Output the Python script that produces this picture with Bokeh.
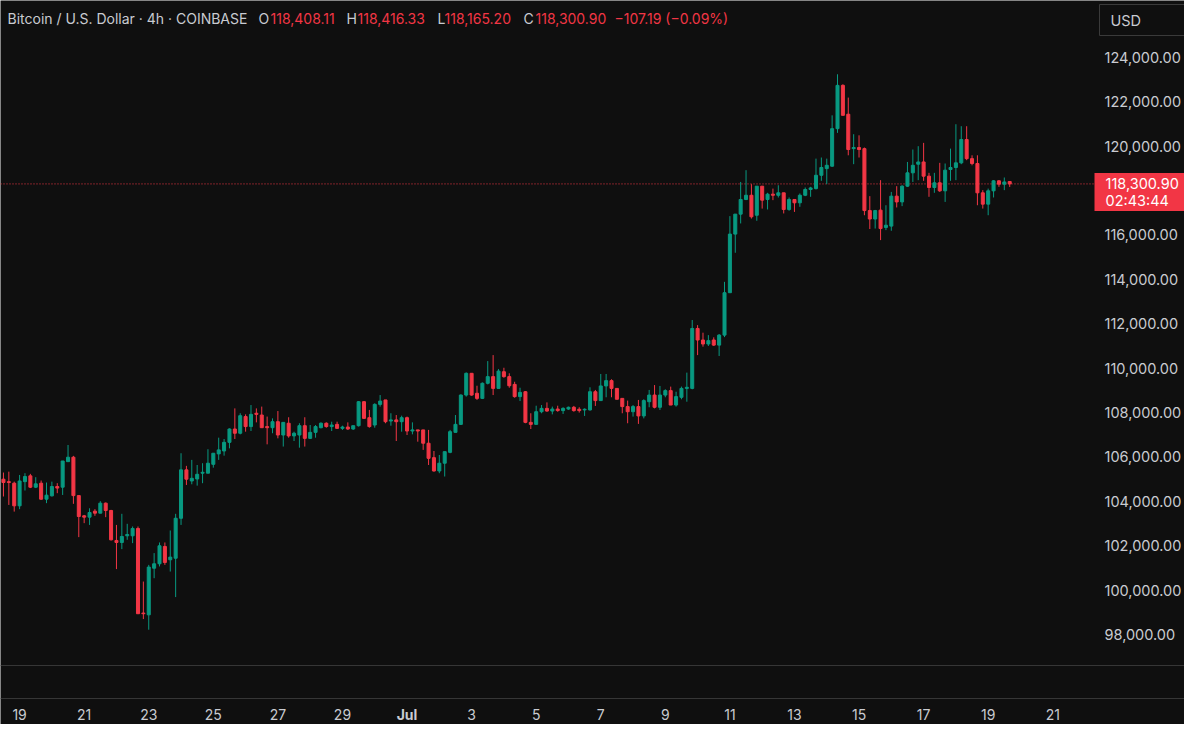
import pandas as pd
from bokeh.plotting import figure
from bokeh.models import ColumnDataSource, Span, Label, Range1d
from bokeh.core.properties import value
from bokeh.embed import file_html
from bokeh.resources import INLINE

# ---------------- data ----------------
symbol_title = "Bitcoin / U.S. Dollar \u00b7 4h \u00b7 COINBASE"
start_time = "2025-06-18 12:00"   # first 4h candle

opens = [
    105000, 104890, 104820, 103800, 104890, 105150, 104640, 104820, 104100, 104250,
    104670, 104640, 105790, 105990, 104260, 103350, 103290, 103560, 103470, 103920,
    103590, 102240, 102150, 102450, 102450, 102780, 98970, 98890, 100990, 101190,
    101970, 101370, 101440, 103240, 105420, 104920, 105010, 105270, 105270, 105670,
    106140, 106270, 106660, 107260, 107070, 107820, 107370, 107970, 107890, 107370,
    107320, 107590, 106990, 107520, 106950, 106990, 107410, 106840, 107110, 107320,
    107520, 107370, 107470, 107290, 107350, 107260, 107410, 108490, 107770, 107440,
    108370, 108570, 107620, 107670, 107590, 107770, 107170, 107220, 107220, 106620,
    105970, 105370, 105720, 106210, 107110, 107470, 108790, 109770, 108870, 108640,
    109320, 109620, 109090, 109840, 109620, 109270, 108720, 108940, 107560, 107470,
    108040, 108190, 108070, 108160, 108090, 108160, 108240, 108150, 108120, 108120,
    108940, 108540, 109200, 109440, 109090, 108640, 108270, 108040, 108270, 107850,
    108490, 108790, 108240, 108790, 108990, 108340, 108690, 109090, 109090, 111790,
    111270, 111090, 111270, 111040, 111490, 113400, 116040, 116940, 117600, 117790,
    116890, 118200, 117600, 117840, 117790, 117900, 117150, 117600, 117450, 117790,
    118050, 118090, 118690, 118990, 119100, 120790, 122740, 121440, 119890, 119940,
    119890, 117100, 116720, 117120, 116340, 116400, 117750, 117490, 118200, 118800,
    119190, 119290, 118650, 118140, 118350, 117990, 118950, 119040, 119250, 120300,
    119440, 119220, 117900, 117390, 117990, 118440, 118290, 118408.11,
]
highs = [
    105300, 105340, 104890, 105190, 105270, 105240, 105090, 104940, 104850, 104890,
    104820, 105820, 106540, 106050, 104260, 103390, 103690, 103650, 104010, 103950,
    103620, 102940, 103440, 102990, 102870, 102870, 100390, 101140, 101670, 102150,
    102150, 102690, 103440, 106170, 105600, 105870, 105640, 105720, 106350, 106170,
    106870, 106810, 107290, 108190, 107970, 107920, 108340, 108190, 108270, 107820,
    107740, 108070, 107560, 107790, 107140, 107520, 107790, 107440, 107440, 107560,
    107560, 107590, 107590, 107410, 107560, 107410, 108520, 108520, 108120, 108420,
    108790, 108570, 107970, 107890, 107860, 107820, 107560, 107220, 107220, 107220,
    106270, 106090, 106240, 107220, 107890, 108820, 109810, 109770, 109210, 109360,
    110320, 110590, 109960, 110020, 109770, 109390, 109120, 108970, 107970, 108310,
    108340, 108460, 108270, 108310, 108240, 108270, 108300, 108240, 108190, 109140,
    109020, 109740, 109740, 109500, 109090, 108640, 108540, 108340, 108570, 108600,
    109020, 109240, 109200, 109050, 109170, 108940, 109170, 109800, 112170, 111940,
    111600, 111490, 111390, 111540, 113890, 116850, 116940, 118390, 118920, 118290,
    118200, 118200, 117900, 118090, 118240, 117900, 117690, 117600, 117870, 118140,
    118170, 119440, 119490, 119440, 121390, 123240, 122790, 122190, 120540, 120490,
    119940, 117750, 117130, 118470, 117340, 117940, 118200, 118240, 119290, 119850,
    120000, 120150, 118800, 118800, 119250, 119220, 119890, 120990, 120900, 120900,
    119590, 119590, 118020, 118090, 118470, 118470, 118590, 118416.33,
]
lows = [
    104220, 103840, 103540, 103650, 104490, 104600, 104600, 104070, 103920, 104220,
    104370, 104290, 105790, 103890, 102390, 103020, 102940, 103350, 103470, 103290,
    102240, 100950, 101850, 102270, 102120, 98940, 98700, 98220, 100540, 101070,
    101140, 100840, 99690, 102940, 104740, 104770, 104710, 104820, 105270, 105520,
    105870, 106060, 106390, 106810, 107020, 107140, 107170, 107560, 107320, 106570,
    107070, 106840, 106470, 106870, 106720, 106420, 106470, 106810, 106870, 107290,
    107320, 107170, 107260, 107220, 107220, 107220, 107370, 107710, 107320, 107320,
    108270, 107520, 107410, 106720, 107140, 106990, 107020, 106690, 106320, 105640,
    105340, 105270, 105120, 106170, 107110, 107440, 108720, 108760, 108570, 108610,
    109270, 108790, 109090, 109570, 109120, 108670, 108520, 107520, 107260, 107470,
    107970, 108040, 107920, 108040, 107940, 108120, 108040, 108000, 107850, 108090,
    108300, 108540, 108690, 108690, 108600, 107970, 107520, 107820, 107490, 107740,
    108240, 108190, 108120, 108690, 108340, 108270, 108600, 108490, 109050, 110590,
    110970, 111000, 111000, 110550, 111400, 113400, 115200, 116520, 117570, 116740,
    116640, 117190, 117150, 117570, 117690, 116970, 117090, 117040, 117270, 117750,
    117720, 118050, 118440, 118290, 119070, 120600, 121390, 119590, 119190, 119490,
    116890, 116270, 116290, 115770, 116220, 116190, 117240, 117300, 118170, 118390,
    118470, 118440, 117720, 117900, 117940, 117490, 118440, 118470, 119190, 119370,
    119140, 117340, 117190, 116890, 117690, 118170, 118020, 118165.20,
]
closes = [
    104850, 104850, 103800, 104920, 105120, 104640, 104790, 104100, 104280, 104670,
    104600, 105820, 105990, 104260, 103320, 103290, 103500, 103470, 103920, 103590,
    102270, 102150, 102420, 102510, 102780, 98940, 98940, 101040, 101190, 102000,
    101250, 101490, 103240, 105420, 105000, 105040, 105220, 105310, 105720, 106170,
    106320, 106660, 107260, 107070, 107860, 107370, 107920, 107920, 107320, 107320,
    107590, 106990, 107560, 106950, 107070, 107410, 106840, 107110, 107370, 107520,
    107370, 107440, 107290, 107350, 107260, 107410, 108490, 107740, 107370, 108370,
    108520, 107590, 107670, 107590, 107770, 107170, 107220, 107170, 106620, 105940,
    105370, 105720, 106240, 107140, 107470, 108790, 109770, 108790, 108640, 109320,
    109620, 109090, 109870, 109620, 109210, 108720, 108910, 107560, 107470, 108040,
    108190, 108070, 108160, 108090, 108190, 108240, 108090, 108090, 108150, 108940,
    108540, 109200, 109440, 109090, 108600, 108270, 108040, 108270, 107850, 108540,
    108790, 108240, 108790, 108990, 108340, 108720, 109090, 109140, 111790, 111270,
    111090, 111240, 111040, 111490, 113400, 116040, 116940, 117600, 117790, 116820,
    118200, 117570, 117840, 117790, 117900, 117150, 117600, 117450, 117790, 118050,
    118120, 118690, 119040, 119140, 120790, 122740, 121390, 119850, 119940, 119850,
    117100, 116720, 117100, 116290, 116440, 117750, 117490, 118200, 118800, 119140,
    119290, 118650, 118140, 118350, 117990, 118920, 119040, 119250, 120300, 119440,
    119220, 117900, 117390, 117990, 118440, 118290, 118390, 118300.90,
]

last_open, last_high, last_low, last_close = 118408.11, 118416.33, 118165.20, 118300.90
change_text = "\u2212107.19 (\u22120.09%)"
countdown = "02:43:44"
currency = "USD"

price_ticks = [98000, 100000, 102000, 104000, 106000, 108000, 110000, 112000,
               114000, 116000, 118000, 120000, 122000, 124000]
date_ticks = ["2025-06-19", "2025-06-21", "2025-06-23", "2025-06-25", "2025-06-27",
              "2025-06-29", "2025-07-01", "2025-07-03", "2025-07-05", "2025-07-07",
              "2025-07-09", "2025-07-11", "2025-07-13", "2025-07-15", "2025-07-17",
              "2025-07-19", "2025-07-21"]
date_labels = ["19", "21", "23", "25", "27", "29", "Jul", "3", "5", "7", "9", "11",
               "13", "15", "17", "19", "21"]

# ---------------- style / layout ----------------
BG = "#0f0f0f"
UP = "#089981"
DOWN = "#f23645"
TXT = "#c9cbd1"
LINE = "#363636"
FONT = "Inter"
HOUR = 3600 * 1000

W, H = 1184, 724
Y_TOP, Y_BOT = 126563, 93950              # price range spanning the canvas height
PX = (Y_TOP - Y_BOT) / H                  # dollars per pixel
PX_PER_HOUR = 1.34525                     # horizontal time scale (4h candle ~ 5.38 px)
ref_ms = pd.Timestamp(date_ticks[0]).value // 10**6
X0 = ref_ms - 14.2 * HOUR
X1 = X0 + W / PX_PER_HOUR * HOUR

def y_at(px):   # pixel offset from top -> price
    return Y_TOP - px * PX

def x_at(px):   # pixel offset from left -> time (ms)
    return X0 + px / PX_PER_HOUR * HOUR

SCALE_X = 1094  # left edge of the price scale column

times = pd.date_range(start_time, periods=len(opens), freq="4h")
t_ms = [float(v) for v in (times.asi8 // 10**6)]
colors = [UP if c >= o else DOWN for o, c in zip(opens, closes)]
src = ColumnDataSource(dict(
    t=t_ms, open=opens, high=highs, low=lows, close=closes,
    top=[max(o, c) for o, c in zip(opens, closes)],
    bottom=[min(o, c) for o, c in zip(opens, closes)],
    color=colors,
))

p = figure(width=W, height=H, output_backend="svg", toolbar_location=None,
           x_range=Range1d(X0, X1), y_range=Range1d(Y_BOT, Y_TOP),
           x_axis_type=None, y_axis_type=None, min_border=0,
           background_fill_color=BG, border_fill_color=BG, outline_line_color=None)

# last-price dotted line (under the candles and the price tag)
p.segment(x0=[X0], y0=[last_close], x1=[x_at(SCALE_X)], y1=[last_close],
          line_color=DOWN, line_width=1, line_dash="1 2")

# candles
p.segment(x0="t", y0="low", x1="t", y1="high", line_color="color", line_width=1, source=src)
p.vbar(x="t", width=0.56 * 4 * HOUR, top="top", bottom="bottom",
       fill_color="color", line_color="color", line_width=1, source=src)

# pane separators (lower pane edge and time-scale edge)
p.add_layout(Span(location=y_at(665), dimension="width", line_color=LINE, line_width=1))
p.add_layout(Span(location=y_at(698), dimension="width", line_color=LINE, line_width=1))

# time scale labels
tick_ms = [float(pd.Timestamp(d).value // 10**6) for d in date_ticks]
norm = [(t, l) for t, l in zip(tick_ms, date_labels) if l != "Jul"]
bold = [(t, l) for t, l in zip(tick_ms, date_labels) if l == "Jul"]
for items, style in ((norm, "normal"), (bold, "bold")):
    p.text(x=[t for t, _ in items], y=[y_at(714)] * len(items), text=[l for _, l in items],
           text_color=TXT, text_font=value(FONT), text_font_size=value("14px"),
           text_font_style=style, text_align="center", text_baseline="middle")

# price scale labels
p.text(x=[x_at(SCALE_X + 10)] * len(price_ticks), y=price_ticks,
       text=[f"{v:,.2f}" for v in price_ticks],
       text_color=TXT, text_font=value(FONT), text_font_size=value("14.5px"),
       text_align="left", text_baseline="middle")

# last price tag
p.quad(left=[x_at(SCALE_X)], right=[X1], top=[last_close + 11 * PX],
       bottom=[last_close - 27 * PX], fill_color=DOWN, line_color=None)
p.text(x=[x_at(SCALE_X + 11)] * 2, y=[last_close, last_close - 16.6 * PX],
       text=[f"{last_close:,.2f}", countdown],
       text_color="#ffffff", text_font=value(FONT), text_font_size=value("14.5px"),
       text_align="left", text_baseline="middle")

# currency box
p.quad(left=[x_at(SCALE_X + 5)], right=[x_at(W + 20)], top=[y_at(4)], bottom=[y_at(35)],
       fill_color=None, line_color="#3a3a3a", line_width=1)
p.text(x=[x_at(SCALE_X + 16)], y=[y_at(19.5)], text=[currency], text_color=TXT,
       text_font=value(FONT), text_font_size=value("14.5px"),
       text_align="left", text_baseline="middle")

# header / legend line
def lab(text, x, color=TXT):
    p.add_layout(Label(x=x, y=y_at(18.3), x_units="screen", y_units="data", text=text,
                       text_color=color, text_font=FONT, text_font_size="14px",
                       text_align="left", text_baseline="middle"))

fmt = lambda v: f"{v:,.2f}"
lab(symbol_title, 7)
lab("O", 258); lab(fmt(last_open), 270, DOWN)
lab("H", 346); lab(fmt(last_high), 357, DOWN)
lab("L", 437); lab(fmt(last_low), 444, DOWN)
lab("C", 523); lab(fmt(last_close), 535, DOWN)
lab(change_text, 614, DOWN)

open("out.html", "w").write(file_html(p, INLINE))
